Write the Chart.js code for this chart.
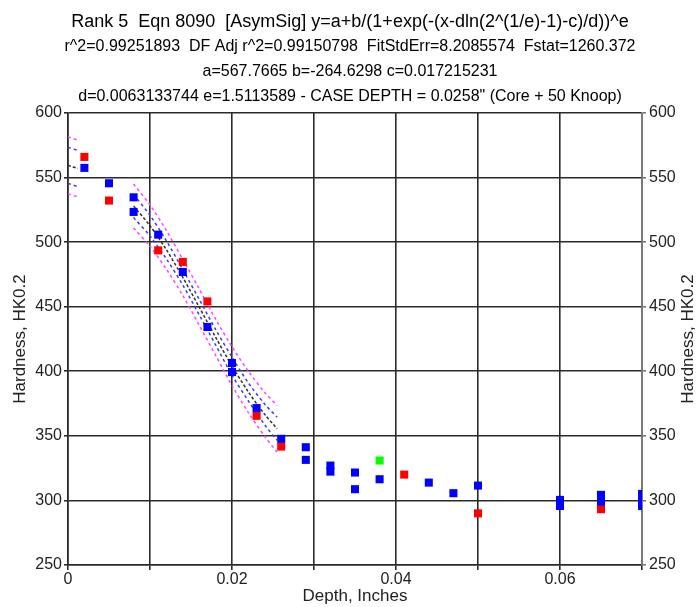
<!DOCTYPE html>
<html>
<head>
<meta charset="utf-8">
<script src="https://cdn.jsdelivr.net/npm/chart.js@4/dist/chart.umd.min.js"></script>
<style>
  html, body { margin: 0; padding: 0; background: #fff; }
  #wrap { width: 700px; height: 607px; }
</style>
</head>
<body>
<div id="wrap"><canvas id="hardnessChart" width="700" height="607"></canvas></div>
<script>
const blueX = [0.002, 0.005, 0.008, 0.008, 0.011, 0.014, 0.017, 0.020, 0.020, 0.023, 0.026, 0.029, 0.029, 0.032, 0.032, 0.035, 0.035, 0.038, 0.044, 0.047, 0.050, 0.060, 0.060, 0.065, 0.065, 0.070, 0.070, 0.070];
const blueY = [557.5, 545.6, 534.7, 523.4, 505.8, 476.9, 434.3, 406.4, 399.4, 371.5, 347.7, 341.2, 331.4, 327.0, 322.3, 321.6, 308.7, 316.4, 313.8, 305.6, 311.5, 300.4, 295.7, 304.3, 299.0, 305.0, 300.4, 295.7];
const redX = [0.002, 0.005, 0.011, 0.014, 0.017, 0.023, 0.026, 0.041, 0.050, 0.065];
const redY = [566.0, 532.2, 493.6, 484.7, 454.1, 365.5, 341.7, 320.0, 290.0, 293.2];
const greenX = [0.038];
const greenY = [330.9];

// fit curve and bands (null = gap where nothing is drawn)
const curveX = [0, 0.0012, 0.005, 0.008, 0.010, 0.012, 0.014, 0.016, 0.018, 0.020, 0.022, 0.024, 0.0255];
const fitY   = [559.5, 557.0, null, 528.0, 512.7, 494.1, 472.7, 449.7, 426.4, 404.1, 384.0, 366.5, 355.5];
const confHi = [573.5, 571.0, null, 537.0, 520.7, 501.0, 478.7, 455.7, 432.4, 411.0, 391.0, 374.5, 364.5];
const confLo = [545.5, 543.0, null, 519.0, 504.7, 487.0, 466.7, 443.7, 420.4, 397.0, 377.0, 358.5, 346.5];
const predHi = [581.5, 579.0, null, 545.0, 528.7, 509.0, 486.7, 463.7, 440.4, 419.0, 400.0, 383.5, 373.5];
const predLo = [537.5, 535.0, null, 511.0, 496.7, 479.0, 458.7, 435.7, 412.4, 389.0, 368.0, 349.5, 337.5];

// tick labels
const xTickLabels = [0, 0.02, 0.04, 0.06];
const yTicks = [250, 300, 350, 400, 450, 500, 550, 600];

const titleLine = 'Rank 5  Eqn 8090  [AsymSig] y=a+b/(1+exp(-(x-dln(2^(1/e)-1)-c)/d))^e';
const subLines = [
    'r^2=0.99251893  DF Adj r^2=0.99150798  FitStdErr=8.2085574  Fstat=1260.372',
    'a=567.7665 b=-264.6298 c=0.017215231',
    'd=0.0063133744 e=1.5113589 - CASE DEPTH = 0.0258" (Core + 50 Knoop)'
];
const yTitle = 'Hardness, HK0.2';

function pts(xs, ys) {
    return xs.map((x, i) => ({ x: x, y: ys[i] }));
}

function curve(label, ys, color, width, dash) {
    return {
        type: 'line',
        label: label,
        data: pts(curveX, ys),
        borderColor: color,
        borderWidth: width,
        borderDash: dash,
        pointRadius: 0,
        fill: false,
        spanGaps: false,
        tension: 0.3,
        order: 5
    };
}

function markers(label, xs, ys, color, order) {
    return {
        label: label,
        data: pts(xs, ys),
        backgroundColor: color,
        borderWidth: 0,
        pointStyle: 'rect',
        pointRadius: 5.7,
        order: order
    };
}

const family = 'Arial, "Liberation Sans", sans-serif';
const tickFont = { family: family, size: 16 };
const axisFont = { family: family, size: 17 };
const textColor = '#222';
const gridColor = '#2a2a2a';

// right axis title reads bottom-to-top like the left one
const rightTitle = {
    id: 'rightTitle',
    afterDraw(chart) {
        const ctx = chart.ctx;
        ctx.save();
        ctx.translate(688, chart.chartArea.top + (chart.chartArea.bottom - chart.chartArea.top) / 2);
        ctx.rotate(-Math.PI / 2);
        ctx.font = '17px ' + family;
        ctx.fillStyle = textColor;
        ctx.textAlign = 'center';
        ctx.textBaseline = 'middle';
        ctx.fillText(yTitle, 0, 0);
        ctx.restore();
    }
};

const ctx = document.getElementById('hardnessChart').getContext('2d');
const hardnessChart = new Chart(ctx, {
    type: 'scatter',
    data: {
        datasets: [
            markers('Blue', blueX, blueY, '#0000ff', 1),
            markers('Green', greenX, greenY, '#00ff00', 1),
            markers('Red', redX, redY, '#ff0000', 2),
            curve('Fit', fitY, '#333333', 1.5, [3, 2]),
            curve('Conf hi', confHi, '#3a3aff', 1.5, [3, 3]),
            curve('Conf lo', confLo, '#3a3aff', 1.5, [3, 3]),
            curve('Pred hi', predHi, '#ff44ff', 1.5, [3, 3]),
            curve('Pred lo', predLo, '#ff44ff', 1.5, [3, 3])
        ]
    },
    options: {
        responsive: false,
        animation: false,
        layout: { padding: 0 },
        plugins: {
            legend: { display: false },
            tooltip: { enabled: false },
            title: {
                display: true,
                text: titleLine,
                color: '#000',
                font: { family: family, size: 18, weight: 'normal', lineHeight: '22px' },
                padding: { top: 11, bottom: 0 }
            },
            subtitle: {
                display: true,
                text: subLines,
                color: '#000',
                font: { family: family, size: 16, weight: 'normal', lineHeight: '25px' },
                padding: { top: 1, bottom: 4 }
            }
        },
        scales: {
            x: {
                type: 'linear',
                position: 'bottom',
                min: 0,
                max: 0.07,
                afterFit: function (scale) { scale.height = 42; },
                ticks: {
                    stepSize: 0.01,
                    font: tickFont,
                    color: textColor,
                    padding: 0,
                    maxRotation: 0,
                    callback: function (value) {
                        const hit = xTickLabels.find(v => Math.abs(v - value) < 1e-9);
                        return hit === undefined ? '' : String(hit);
                    }
                },
                grid: { color: gridColor, lineWidth: 1.6, tickLength: 5 },
                border: { color: gridColor, width: 1.6 },
                title: {
                    display: true,
                    text: 'Depth, Inches',
                    font: axisFont,
                    color: textColor,
                    padding: { top: 0, bottom: 0 }
                }
            },
            y: {
                position: 'left',
                min: 250,
                max: 600,
                afterFit: function (scale) { scale.width = 68; },
                afterBuildTicks: function (scale) { scale.ticks = yTicks.map(v => ({ value: v })); },
                ticks: { font: tickFont, color: textColor, padding: 2 },
                grid: { color: gridColor, lineWidth: 1.6, tickLength: 4 },
                border: { color: gridColor, width: 1.6 },
                title: {
                    display: true,
                    text: yTitle,
                    font: axisFont,
                    color: textColor,
                    padding: { top: 10, bottom: 0 }
                }
            },
            y2: {
                position: 'right',
                min: 250,
                max: 600,
                afterFit: function (scale) { scale.width = 58; },
                afterBuildTicks: function (scale) { scale.ticks = yTicks.map(v => ({ value: v })); },
                ticks: { font: tickFont, color: textColor, padding: 3 },
                grid: { drawOnChartArea: false, color: '#777', lineWidth: 1.6, tickLength: 4 },
                border: { color: '#777', width: 1.6 }
            }
        }
    },
    plugins: [rightTitle]
});
</script>
</body>
</html>
